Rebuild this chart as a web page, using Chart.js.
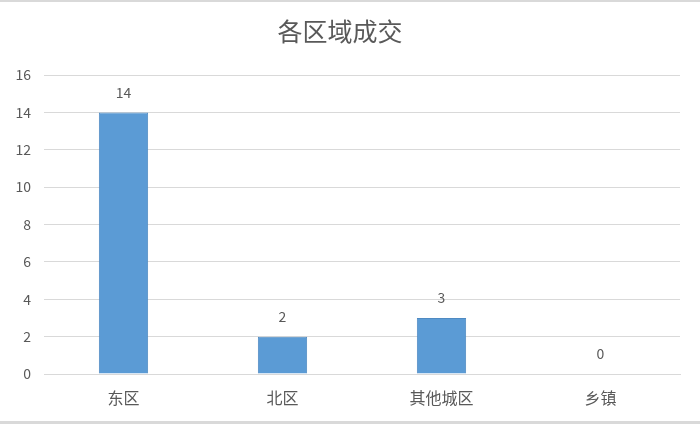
<!DOCTYPE html>
<html>
<head>
<meta charset="utf-8">
<script src="https://cdn.jsdelivr.net/npm/chart.js@4/dist/chart.umd.min.js"></script>
<style>
    html, body { margin: 0; padding: 0; background: #fff; }
    .wrap {
        width: 700px;
        height: 424px;
        box-sizing: border-box;
        border-top: 2px solid #d9d9d9;
        border-bottom: 3px solid #d9d9d9;
        position: relative;
    }
</style>
</head>
<body>
<div class="wrap"><canvas id="areaChart"></canvas></div>
<script>
const chartTitle = '各区域成交';
const regions = ['东区', '北区', '其他城区', '乡镇'];
const deals = [14, 2, 3, 0];
const yTicks = { min: 0, max: 16, step: 2 };

const textColor = '#595959';
const fontFamily = '"Noto Sans CJK SC", "Noto Sans", sans-serif';

// Draw the value above each bar
const valueLabels = {
    id: 'valueLabels',
    afterDatasetsDraw(chart) {
        const ctx = chart.ctx;
        const meta = chart.getDatasetMeta(0);
        ctx.save();
        ctx.fillStyle = textColor;
        ctx.font = '14px ' + fontFamily;
        ctx.textAlign = 'center';
        ctx.textBaseline = 'middle';
        meta.data.forEach((bar, i) => {
            ctx.fillText(String(deals[i]), bar.x, bar.y - 20);
        });
        ctx.restore();
    }
};

const ctx = document.getElementById('areaChart').getContext('2d');
new Chart(ctx, {
    type: 'bar',
    data: {
        labels: regions,
        datasets: [{
            data: deals,
            backgroundColor: '#5b9bd5',
            borderColor: '#4f8ac2',
            borderWidth: 1,
            categoryPercentage: 1,
            barPercentage: 0.31
        }]
    },
    options: {
        responsive: true,
        maintainAspectRatio: false,
        animation: false,
        layout: {
            padding: { left: 0, right: 20, top: 0, bottom: 0 }
        },
        plugins: {
            legend: { display: false },
            tooltip: { enabled: false },
            title: {
                display: true,
                text: chartTitle,
                color: textColor,
                font: { family: fontFamily, size: 25, weight: 'normal' },
                padding: { top: 14, bottom: 29 }
            }
        },
        scales: {
            x: {
                grid: { display: false, drawTicks: false },
                border: { color: '#d9d9d9' },
                ticks: {
                    color: textColor,
                    padding: 14,
                    font: { family: fontFamily, size: 16 }
                },
                afterFit(scale) { scale.height = 47; }
            },
            y: {
                min: yTicks.min,
                max: yTicks.max,
                grid: { color: '#d9d9d9', drawTicks: false },
                border: { display: false },
                ticks: {
                    stepSize: yTicks.step,
                    color: textColor,
                    padding: 13,
                    font: { family: fontFamily, size: 14 }
                },
                afterFit(scale) { scale.width = 44; }
            }
        }
    },
    plugins: [valueLabels]
});
</script>
</body>
</html>
